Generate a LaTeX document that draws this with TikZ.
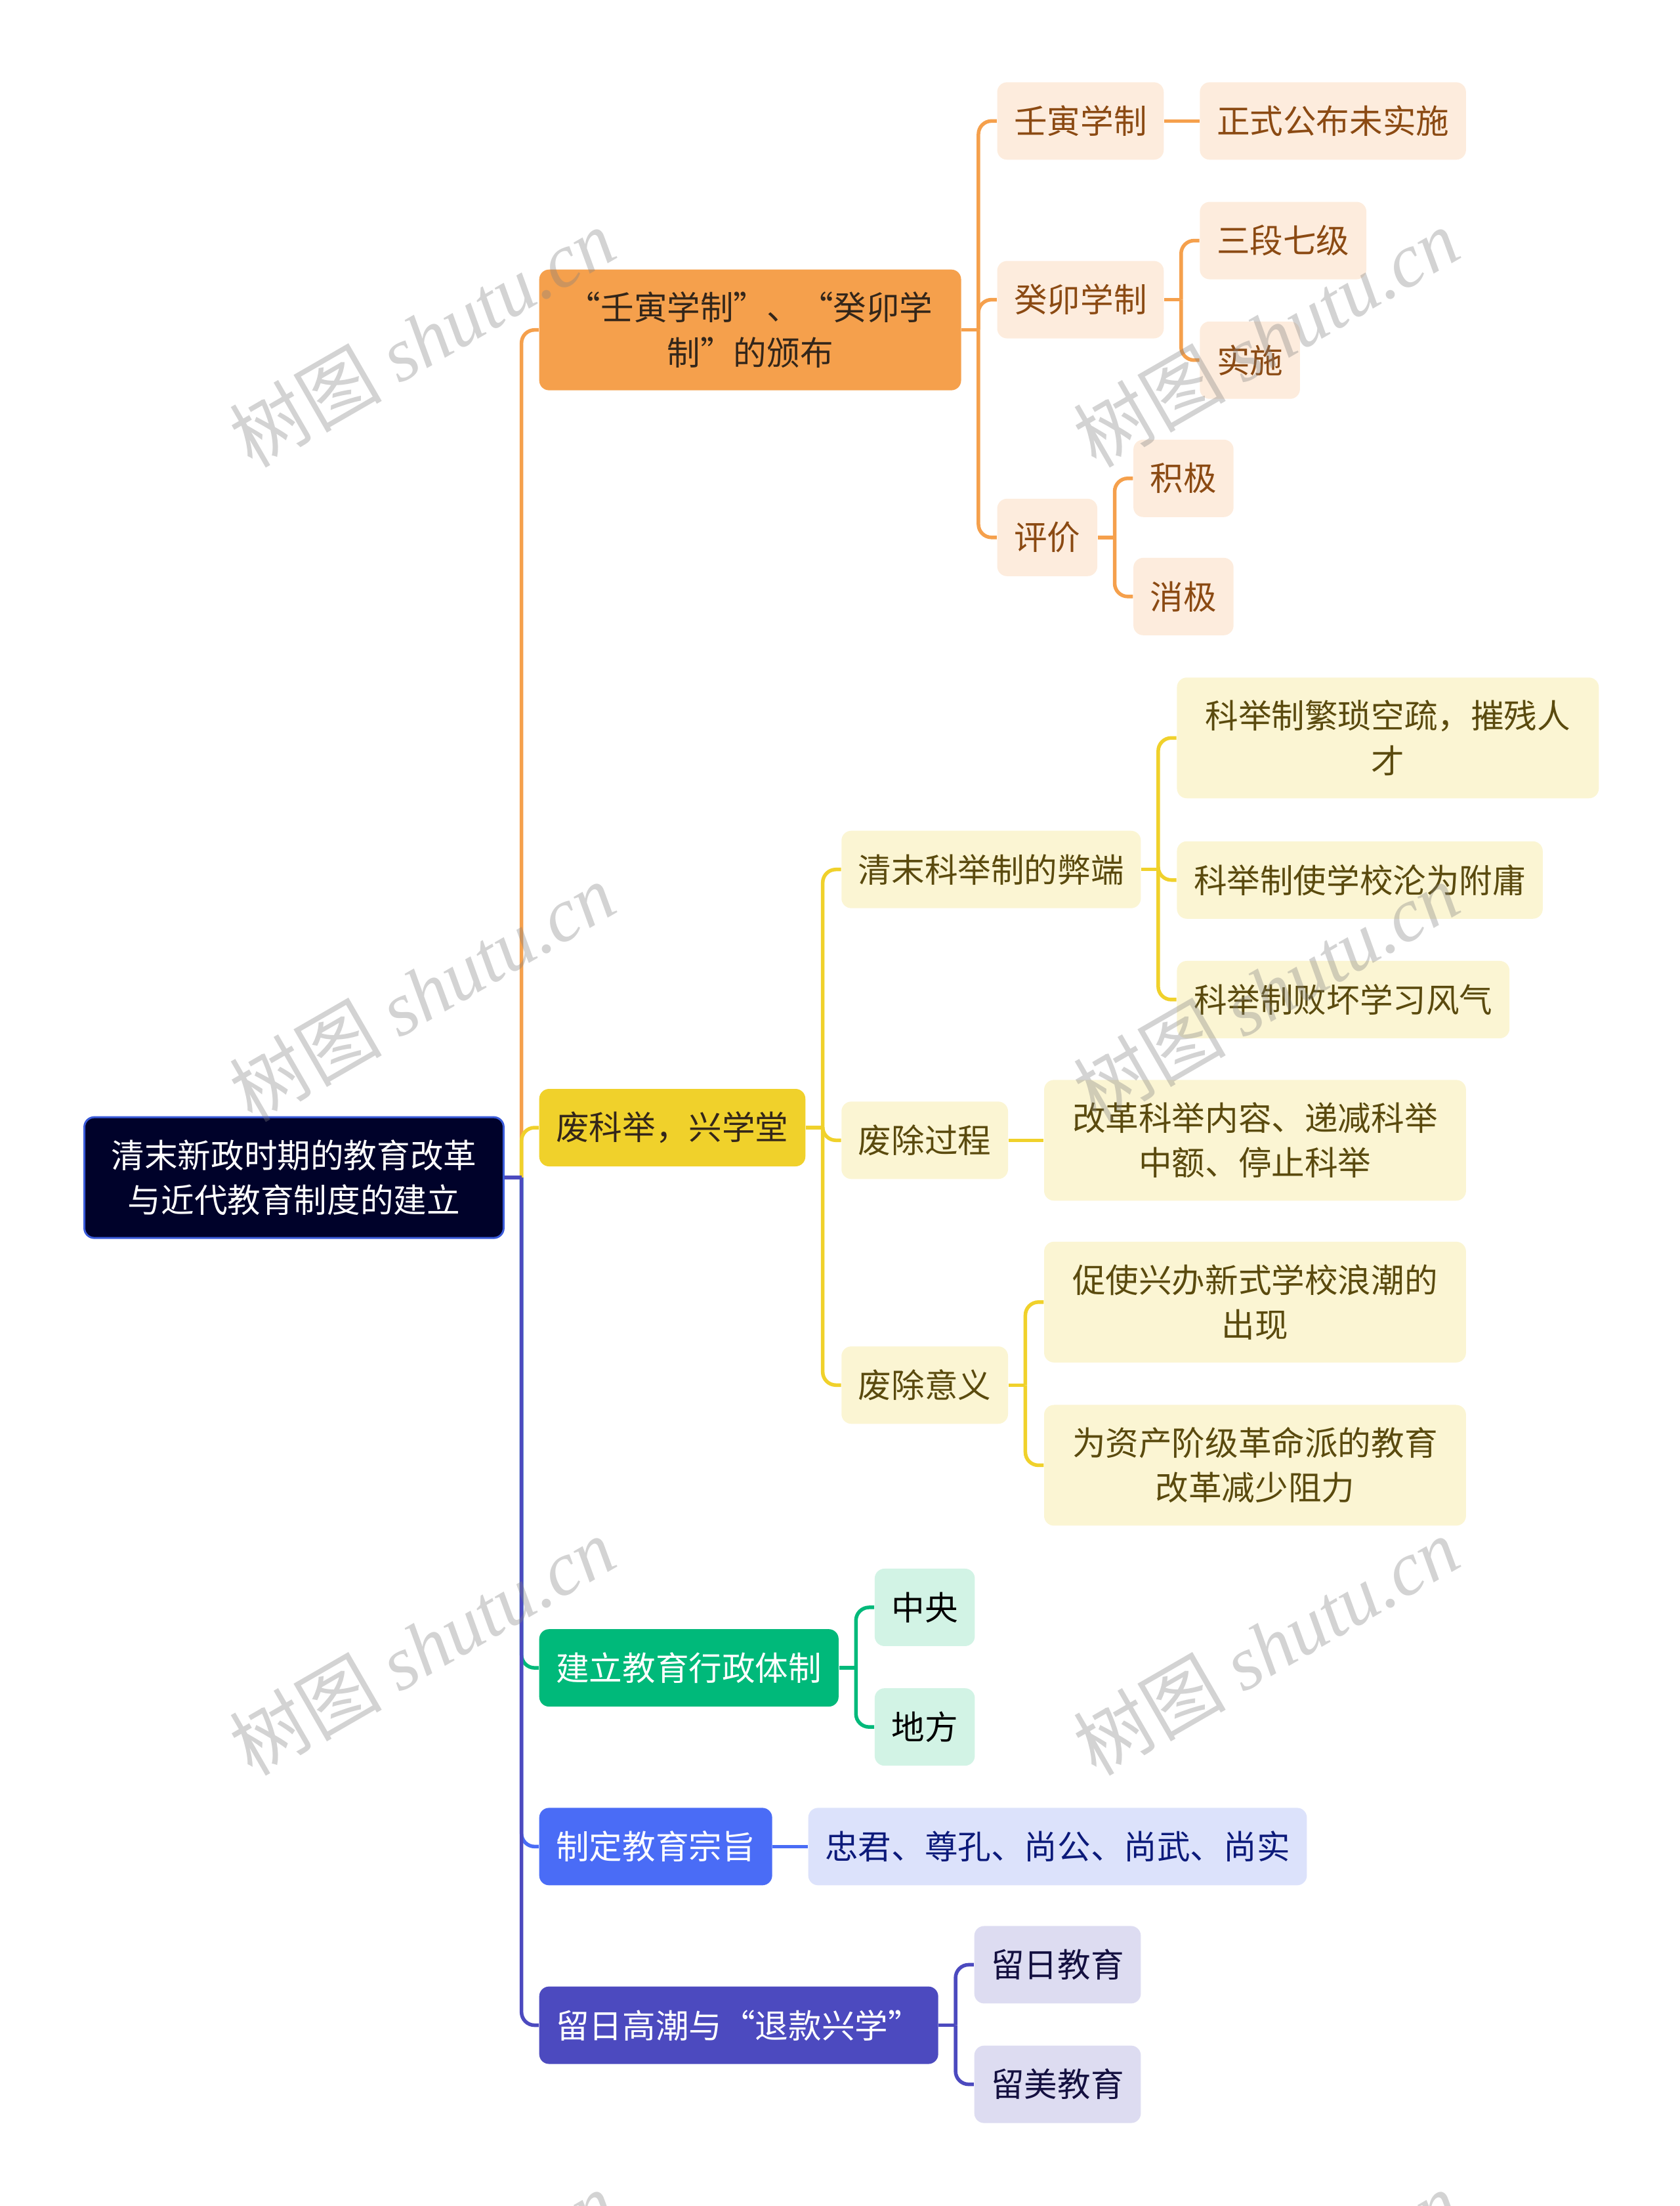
\documentclass[tikz,border=0pt]{standalone}
\usepackage{fontspec}
\setmainfont{Noto Sans CJK SC}
\newfontfamily\wmlatin{Liberation Serif}
\usetikzlibrary{positioning}
\definecolor{rootFill}{HTML}{00022A}
\definecolor{rootEdge}{HTML}{3A5BD9}
\definecolor{orMain}{HTML}{F5A04C}
\definecolor{orLeaf}{HTML}{FDECDD}
\definecolor{orText}{HTML}{8B4A13}
\definecolor{yeMain}{HTML}{F0D12B}
\definecolor{yeLeaf}{HTML}{FBF5D3}
\definecolor{yeText}{HTML}{5A4A0E}
\definecolor{grMain}{HTML}{00B97A}
\definecolor{grLeaf}{HTML}{D2F3E5}
\definecolor{blMain}{HTML}{4A6CF6}
\definecolor{blLeaf}{HTML}{DCE2FB}
\definecolor{blText}{HTML}{0C1A7A}
\definecolor{puMain}{HTML}{4C4ABF}
\definecolor{puLeaf}{HTML}{DDDCF1}
\definecolor{puText}{HTML}{141040}
\definecolor{darkText}{HTML}{33261A}
\newcommand{\nodefont}{\fontsize{14.4pt}{19.4pt}\selectfont}
\newcommand{\wmfont}{\fontsize{33pt}{33pt}\selectfont}
\tikzset{
  topic/.style={rounded corners=1.5mm, inner xsep=2.57mm, inner ysep=0pt, minimum height=11.8mm, align=center, font=\nodefont},
  tall/.style={minimum height=18.4mm, minimum width=64.3mm},
  rootbox/.style={topic, tall, fill=rootFill, draw=rootEdge, line width=0.3mm, text=white, minimum width=63.9mm},
  orbox/.style={topic, fill=orMain, text=darkText},
  orleaf/.style={topic, fill=orLeaf, text=orText},
  yebox/.style={topic, fill=yeMain, text=darkText},
  yeleaf/.style={topic, fill=yeLeaf, text=yeText},
  grbox/.style={topic, fill=grMain, text=white},
  grleaf/.style={topic, fill=grLeaf, text=black},
  blbox/.style={topic, fill=blMain, text=white},
  blleaf/.style={topic, fill=blLeaf, text=blText},
  pubox/.style={topic, fill=puMain, text=white},
  puleaf/.style={topic, fill=puLeaf, text=puText},
  link/.style={line width=0.55mm, rounded corners=2mm},
  orline/.style={link, draw=orMain},
  yeline/.style={link, draw=yeMain},
  grline/.style={link, draw=grMain},
  blline/.style={link, draw=blMain},
  puline/.style={link, draw=puMain},
  watermark/.style={text=black!50, opacity=0.35, rotate=30, font=\wmfont}
}

\begin{document}
\begin{tikzpicture}[x=0.2144mm, y=-0.2144mm, node distance=5.36mm]
  \useasboundingbox (0,0) rectangle (1194,1568);

  % root and first level
  \node[rootbox] (root) at (209,837) {清末新政时期的教育改革\\与近代教育制度的建立};
  \node[orbox, tall, anchor=west] (reform) at (383,234.5) {“壬寅学制”、“癸卯学\\制”的颁布};
  \node[yebox, anchor=west] (keju) at (383,801.5) {废科举，兴学堂};
  \node[grbox, anchor=west] (admin) at (383,1185.5) {建立教育行政体制};
  \node[blbox, anchor=west] (aim) at (383,1312.5) {制定教育宗旨};
  \node[pubox, anchor=west] (abroad) at (383,1439.5) {留日高潮与“退款兴学”};

  % orange branch
  \node[orleaf, anchor=west] (renyin) at ([shift={(25,-148.5)}]reform.east) {壬寅学制};
  \node[orleaf, right=of renyin] (renyinres) {正式公布未实施};
  \node[orleaf, anchor=west] (guimao) at ([shift={(25,-21.5)}]reform.east) {癸卯学制};
  \node[orleaf, anchor=west] (sanduan) at ([shift={(25,-42)}]guimao.east) {三段七级};
  \node[orleaf, anchor=west] (shishi) at ([shift={(25,43)}]guimao.east) {实施};
  \node[orleaf, anchor=west] (pingjia) at ([shift={(25,147.5)}]reform.east) {评价};
  \node[orleaf, anchor=west] (jiji) at ([shift={(25,-42)}]pingjia.east) {积极};
  \node[orleaf, anchor=west] (xiaoji) at ([shift={(25,42)}]pingjia.east) {消极};

  % yellow branch
  \node[yeleaf, anchor=west] (bibian) at ([shift={(25,-183.5)}]keju.east) {清末科举制的弊端};
  \node[yeleaf, tall, anchor=west] (fansuo) at ([shift={(25,-93.5)}]bibian.east) {科举制繁琐空疏，摧残人\\才};
  \node[yeleaf, anchor=west] (lunwei) at ([shift={(25,7.5)}]bibian.east) {科举制使学校沦为附庸};
  \node[yeleaf, anchor=west] (baihuai) at ([shift={(25,92.5)}]bibian.east) {科举制败坏学习风气};
  \node[yeleaf, anchor=west] (guocheng) at ([shift={(25,9)}]keju.east) {废除过程};
  \node[yeleaf, tall, right=of guocheng] (gaige) {改革科举内容、递减科举\\中额、停止科举};
  \node[yeleaf, anchor=west] (yiyi) at ([shift={(25,183)}]keju.east) {废除意义};
  \node[yeleaf, tall, anchor=west] (cushi) at ([shift={(25,-59)}]yiyi.east) {促使兴办新式学校浪潮的\\出现};
  \node[yeleaf, tall, anchor=west] (zichan) at ([shift={(25,57)}]yiyi.east) {为资产阶级革命派的教育\\改革减少阻力};

  % green, blue and purple branches
  \node[grleaf, anchor=west] (zhongyang) at ([shift={(25,-43)}]admin.east) {中央};
  \node[grleaf, anchor=west] (difang) at ([shift={(25,42)}]admin.east) {地方};
  \node[blleaf, right=of aim] (zongzhi) {忠君、尊孔、尚公、尚武、尚实};
  \node[puleaf, anchor=west] (liuri) at ([shift={(25,-43)}]abroad.east) {留日教育};
  \node[puleaf, anchor=west] (liumei) at ([shift={(25,42)}]abroad.east) {留美教育};

  % connectors
  \coordinate (rootbus) at ([shift={(12,0)}]root.east);
  \draw[orline] (rootbus) |- (reform.west);
  \draw[yeline] (rootbus) |- (keju.west);
  \draw[grline] (rootbus) |- (admin.west);
  \draw[blline] (rootbus) |- (aim.west);
  \draw[puline] (rootbus) |- (abroad.west);
  \draw[puline] (root.east) -- (rootbus);

  \coordinate (reformbus) at ([shift={(12,0)}]reform.east);
  \draw[orline] (reform.east) -- (reformbus);
  \draw[orline] (reformbus) |- (renyin.west);
  \draw[orline] (reformbus) |- (guimao.west);
  \draw[orline] (reformbus) |- (pingjia.west);
  \draw[orline] (renyin) -- (renyinres);
  \coordinate (guimaobus) at ([shift={(12,0)}]guimao.east);
  \draw[orline] (guimao.east) -- (guimaobus);
  \draw[orline] (guimaobus) |- (sanduan.west);
  \draw[orline] (guimaobus) |- (shishi.west);
  \coordinate (pingjiabus) at ([shift={(12,0)}]pingjia.east);
  \draw[orline] (pingjia.east) -- (pingjiabus);
  \draw[orline] (pingjiabus) |- (jiji.west);
  \draw[orline] (pingjiabus) |- (xiaoji.west);

  \coordinate (kejubus) at ([shift={(12,0)}]keju.east);
  \draw[yeline] (keju.east) -- (kejubus);
  \draw[yeline] (kejubus) |- (bibian.west);
  \draw[yeline] (kejubus) |- (guocheng.west);
  \draw[yeline] (kejubus) |- (yiyi.west);
  \coordinate (bibianbus) at ([shift={(12,0)}]bibian.east);
  \draw[yeline] (bibian.east) -- (bibianbus);
  \draw[yeline] (bibianbus) |- (fansuo.west);
  \draw[yeline] (bibianbus) |- (lunwei.west);
  \draw[yeline] (bibianbus) |- (baihuai.west);
  \draw[yeline] (guocheng) -- (gaige);
  \coordinate (yiyibus) at ([shift={(12,0)}]yiyi.east);
  \draw[yeline] (yiyi.east) -- (yiyibus);
  \draw[yeline] (yiyibus) |- (cushi.west);
  \draw[yeline] (yiyibus) |- (zichan.west);

  \coordinate (adminbus) at ([shift={(12,0)}]admin.east);
  \draw[grline] (admin.east) -- (adminbus);
  \draw[grline] (adminbus) |- (zhongyang.west);
  \draw[grline] (adminbus) |- (difang.west);
  \draw[blline] (aim) -- (zongzhi);
  \coordinate (abroadbus) at ([shift={(12,0)}]abroad.east);
  \draw[puline] (abroad.east) -- (abroadbus);
  \draw[puline] (abroadbus) |- (liuri.west);
  \draw[puline] (abroadbus) |- (liumei.west);

  % watermarks
  \node[watermark] (wm1) at (300,240) {树图 {\wmlatin\itshape shutu.cn}};
  \node[watermark] (wm2) at (900,240) {树图 {\wmlatin\itshape shutu.cn}};
  \node[watermark] (wm3) at (300,705) {树图 {\wmlatin\itshape shutu.cn}};
  \node[watermark] (wm4) at (900,705) {树图 {\wmlatin\itshape shutu.cn}};
  \node[watermark] (wm5) at (300,1170) {树图 {\wmlatin\itshape shutu.cn}};
  \node[watermark] (wm6) at (900,1170) {树图 {\wmlatin\itshape shutu.cn}};
  \node[watermark] (wm7) at (300,1635) {树图 {\wmlatin\itshape shutu.cn}};
  \node[watermark] (wm8) at (900,1635) {树图 {\wmlatin\itshape shutu.cn}};
\end{tikzpicture}
\end{document}
